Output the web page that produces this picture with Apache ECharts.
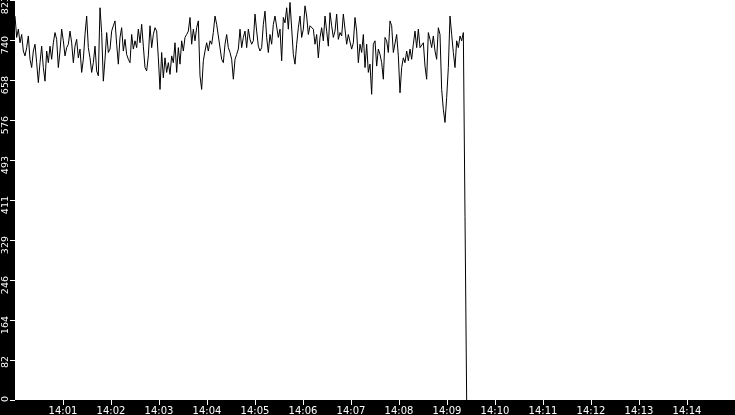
<!DOCTYPE html>
<html>
<head>
<meta charset="utf-8">
<script src="https://cdn.jsdelivr.net/npm/echarts@6/dist/echarts.min.js"></script>
<style>
    html, body { margin: 0; padding: 0; background: #000; }
    #chart { width: 735px; height: 415px; }
</style>
</head>
<body>
<div id="chart"></div>
<script>
let chart = echarts.init(document.getElementById('chart'), null, { renderer: 'canvas' })

// samples, one every ~2.08 s from 14:00:00
const startMinute = 14 * 60
const stepSec = 25 / 12
const seg1 = [
    790, 746, 763, 735, 752, 718, 708, 725, 749, 701,
    684, 718, 732, 694, 653, 694, 728, 684, 656, 718,
    694, 728, 701, 735, 756, 742, 684, 718, 763, 739,
    708, 725, 732, 759, 735, 694, 728, 742, 704, 722,
    674, 701, 752, 790, 725, 704, 674, 694, 728, 677,
    667, 807, 756, 656, 701, 756, 715, 722, 759, 770,
    780, 732, 691, 746, 766, 718, 742, 711, 701, 694
]
const seg2 = [
    752, 722, 739, 725, 763, 735, 773, 728, 684, 677,
    708, 770, 725, 752, 766, 759, 704, 639, 715, 663,
    704, 674, 694, 670, 708, 694, 735, 674, 725, 691,
    739, 718, 746, 752, 759, 787, 732, 763, 739, 766,
    780, 667, 639, 698, 718, 735, 718, 739, 732, 756,
    790, 773, 749, 752, 701, 694, 732, 752, 725, 715,
    701, 660, 701, 711, 722
]
const seg3 = [
    763, 725, 746, 759, 725, 763, 742, 732, 739, 794,
    759, 728, 718, 725, 773, 800, 746, 715, 752, 732,
    773, 790, 794, 746, 763, 698, 787, 776, 807, 763,
    818, 821, 711, 691, 732, 766, 790, 746, 763, 811,
    790, 752, 770, 773, 763, 732, 752, 704, 746, 766,
    739, 790, 759, 728, 797, 770, 746, 759, 794, 742,
    756, 749, 794, 763, 732, 752
]
const seg4 = [
    752, 722, 735, 787, 759, 694, 732, 715, 752, 684,
    732, 674, 691, 629, 732, 739, 687, 722, 711, 694,
    660, 746, 739, 715, 780, 770, 715, 711, 752, 708,
    632, 684, 704, 694, 718, 698, 722, 701, 732, 759,
    725, 763, 725, 722, 735, 687, 660, 756, 742, 725,
    749, 718, 701, 766, 752, 639, 598, 571, 622, 684,
    790, 752, 715, 684, 739, 725, 749, 739, 756,
    378, 0
]
const values = seg1.concat(seg2, seg3, seg4)

const yMax = 823
const yStep = 82.3
const xMax = 15 * 60

let points = values.map((v, i) => [i * stepSec, v])

function clock(sec) {
    let m = startMinute + Math.round(sec / 60)
    let hh = Math.floor(m / 60), mm = m % 60
    return hh + ':' + (mm < 10 ? '0' + mm : mm)
}

let option = {
    backgroundColor: '#000',
    animation: false,
    grid: {
        left: 15,
        right: 0,
        top: 0,
        bottom: 15,
        containLabel: false,
        outerBoundsMode: 'none',
        show: true,
        backgroundColor: '#fff',
        borderWidth: 0
    },
    xAxis: {
        type: 'value',
        min: 0,
        max: xMax,
        interval: 60,
        axisLine: { show: false },
        axisTick: { show: true, length: 5, lineStyle: { color: '#fff', width: 1 } },
        splitLine: { show: false },
        axisLabel: {
            color: '#fff',
            fontFamily: 'DejaVu Sans',
            fontSize: 10,
            margin: 6,
            showMinLabel: false,
            showMaxLabel: false,
            formatter: clock
        }
    },
    yAxis: {
        type: 'value',
        min: 0,
        max: yMax,
        interval: yStep,
        axisLine: { show: false },
        axisTick: { show: true, length: 5, lineStyle: { color: '#fff', width: 1 } },
        splitLine: { show: false },
        axisLabel: {
            color: '#fff',
            fontFamily: 'DejaVu Sans',
            fontSize: 9.5,
            rotate: 90,
            align: 'right',
            verticalAlign: 'middle',
            margin: 9,
            padding: [0, -4, 0, 0],
            formatter: v => String(Math.floor(v + 0.001))
        }
    },
    series: [
        {
            type: 'line',
            data: points,
            showSymbol: false,
            symbol: 'none',
            lineStyle: { color: '#000', width: 1 }
        }
    ]
}

chart.setOption(option)
</script>
</body>
</html>
